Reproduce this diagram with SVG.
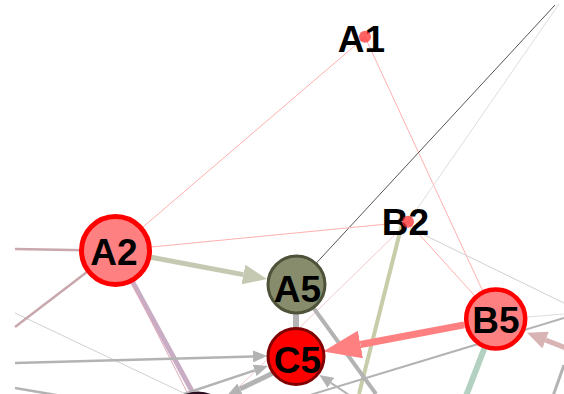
<svg xmlns="http://www.w3.org/2000/svg" width="564" height="394" viewBox="0 0 564 394">
<style>
  .lbl { font-family: "Liberation Sans", Arial, sans-serif; font-weight: bold; font-size: 37px; text-anchor: middle; fill: #000; }
  .e { fill: none; stroke-linecap: butt; }
  .thin-pink { stroke: #ffb0b0; stroke-width: 1; }
  .grey { stroke: #b3b3b3; }
  .mauve { stroke: #c9a7ad; stroke-width: 2.5; }
</style>
<defs>
  <marker id="mOlive" viewBox="0 -10 24 20" markerWidth="24" markerHeight="20" refX="0" refY="0" orient="auto" markerUnits="userSpaceOnUse">
    <path d="M0,-10 L24,0 L0,10 Z" fill="#c5c9b2"/>
  </marker>
  <marker id="mPink" viewBox="0 -14 38 28" markerWidth="38" markerHeight="28" refX="0" refY="0" orient="auto" markerUnits="userSpaceOnUse">
    <path d="M0,-14 L38,0 L0,14 Z" fill="#ff8080"/>
  </marker>
  <marker id="mRose" viewBox="0 -9 20 18" markerWidth="20" markerHeight="18" refX="0" refY="0" orient="auto" markerUnits="userSpaceOnUse">
    <path d="M0,-9 L20,0 L0,9 Z" fill="#d8b4b4"/>
  </marker>
  <marker id="mGrey" viewBox="0 -6 14 12" markerWidth="14" markerHeight="12" refX="0" refY="0" orient="auto" markerUnits="userSpaceOnUse">
    <path d="M0,-6 L14,0 L0,6 Z" fill="#b3b3b3"/>
  </marker>
</defs>
<rect x="0" y="0" width="564" height="394" fill="#fff"/>
<g id="connectors">
  <line class="e thin-pink" x1="365" y1="37" x2="115.5" y2="250.5"/>
  <line class="e thin-pink" x1="365" y1="37" x2="495.7" y2="319"/>
  <line class="e" stroke="#555" stroke-width="1" x1="555" y1="5" x2="296.5" y2="284.5"/>
  <line class="e" stroke="#dddddd" stroke-width="1" x1="559" y1="4" x2="408" y2="222"/>
  <line class="e thin-pink" x1="115.5" y1="250.5" x2="408" y2="222"/>
  <line class="e thin-pink" x1="408" y1="222" x2="495.7" y2="319"/>
  <line class="e" stroke="#d0d0d0" stroke-width="1" x1="410" y1="228" x2="564" y2="303"/>
  <line class="e" stroke="#f0caca" stroke-width="1" x1="200" y1="425" x2="408" y2="222"/>
  <line class="e" stroke="#c8cca8" stroke-width="4" x1="402" y1="224" x2="359" y2="394"/>
  <line class="e" stroke="#dddddd" stroke-width="1" x1="527" y1="317" x2="564" y2="314"/>
  <line class="e grey" stroke-width="2" x1="300" y1="398" x2="564" y2="318"/>
  <line class="e grey" stroke-width="4" x1="296.5" y1="284.5" x2="376" y2="394"/>
  <line class="e grey" stroke-width="6" x1="296" y1="300" x2="296" y2="340"/>
  <line class="e grey" stroke-width="3" x1="553" y1="396" x2="564" y2="365"/>
  <line class="e" stroke="#b3d1c1" stroke-width="6" x1="495.7" y1="319" x2="466" y2="396"/>
  <line class="e" stroke="#d0d0d0" stroke-width="1" x1="15" y1="313" x2="190" y2="396"/>
  <line class="e mauve" x1="15" y1="249" x2="100" y2="250.5"/>
  <line class="e mauve" x1="15" y1="327" x2="100" y2="262"/>
  <line class="e" stroke="#c9adc4" stroke-width="5" x1="115.5" y1="250.5" x2="205" y2="415"/>
  <line class="e" stroke="#e4a8b8" stroke-width="1" x1="115.5" y1="250.5" x2="192" y2="402"/>
  <line class="e grey" stroke-width="2.5" x1="15" y1="388" x2="62" y2="396"/>
  <line class="e grey" stroke-width="2.5" x1="15" y1="363" x2="253" y2="356.4" marker-end="url(#mGrey)"/>
  <line class="e grey" stroke-width="2.5" x1="184" y1="394" x2="254.7" y2="370.4" marker-end="url(#mGrey)"/>
  <line class="e grey" stroke-width="5" x1="296" y1="362" x2="240" y2="389" marker-end="url(#mGrey)"/>
  <line class="e grey" stroke-width="2" x1="352" y1="397" x2="330.9" y2="382.8" marker-end="url(#mGrey)"/>
  <line class="e" stroke="#c5c9b2" stroke-width="5" x1="150.9" y1="257.2" x2="243.4" y2="274.6" marker-end="url(#mOlive)"/>
  <line class="e" stroke="#ff8080" stroke-width="7" x1="464.2" y1="324.9" x2="360.4" y2="344.5" marker-end="url(#mPink)"/>
  <line class="e" stroke="#d8b4b4" stroke-width="5" x1="566" y1="348" x2="545.7" y2="340.1" marker-end="url(#mRose)"/>
</g>
<g id="nodeA1">
  <text class="lbl" x="361.5" y="51.5">A1</text>
  <circle cx="365" cy="36.7" r="6" fill="#ff3030" fill-opacity="0.75"/>
</g>
<g id="nodeB2">
  <text class="lbl" x="405.5" y="235">B2</text>
  <circle cx="408" cy="221.7" r="6" fill="#ff3030" fill-opacity="0.75"/>
</g>
<g id="nodeA2">
  <circle cx="115.5" cy="250.5" r="34" fill="#ff8080" stroke="#ff0000" stroke-width="5"/>
  <text class="lbl" x="114" y="264.5">A2</text>
</g>
<g id="nodeA5">
  <circle cx="296.5" cy="284.5" r="28.5" fill="#878c6c" stroke="#4d5239" stroke-width="3"/>
  <text class="lbl" x="297.5" y="301.5">A5</text>
</g>
<g id="nodeC5">
  <circle cx="296" cy="356.5" r="28" fill="#ff0000" stroke="#800000" stroke-width="3"/>
  <text class="lbl" x="297.5" y="372.5">C5</text>
</g>
<g id="nodeB5">
  <circle cx="495.7" cy="319" r="29.5" fill="#ff8080" stroke="#ff0000" stroke-width="4.5"/>
  <text class="lbl" x="496" y="333">B5</text>
</g>
<g id="nodeBottom">
  <circle cx="198" cy="424" r="31" fill="#4d2a44" stroke="#2a1020" stroke-width="3"/>
</g>
</svg>
